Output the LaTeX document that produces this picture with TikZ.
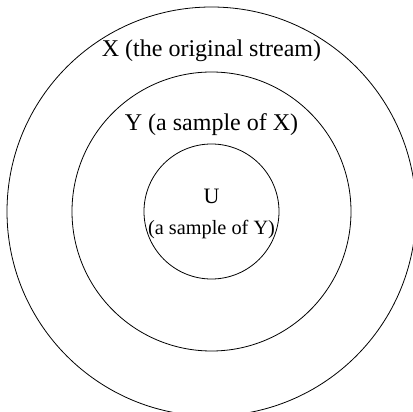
\documentclass[tikz,border=0pt]{standalone}
\usepackage{fontspec}
\setmainfont{Liberation Serif}
\begin{document}
\begin{tikzpicture}[x=1pt,y=1pt,
  ring/.style={draw=black,line width=0.8pt},
  lbl/.style={anchor=base,inner sep=0pt,font=\fontsize{24}{28}\selectfont},
  sublbl/.style={anchor=base,inner sep=0pt,font=\fontsize{20.3}{24}\selectfont}]
\useasboundingbox (0,0) rectangle (412,412);
\coordinate (c) at (211.5,200.5);
\draw[ring] (c) circle[radius=204.5];
\draw[ring] (c) circle[radius=139.5];
\draw[ring] (c) circle[radius=67.5];
\node[lbl] (x) at (211.5,355) {X (the original stream)};
\node[lbl] (y) at (211.5,281) {Y (a sample of X)};
\node[lbl,font=\fontsize{22}{26}\selectfont] (u) at (211.5,208) {U};
\node[sublbl] (us) at (211.5,177) {(a sample of Y)};
\end{tikzpicture}
\end{document}
